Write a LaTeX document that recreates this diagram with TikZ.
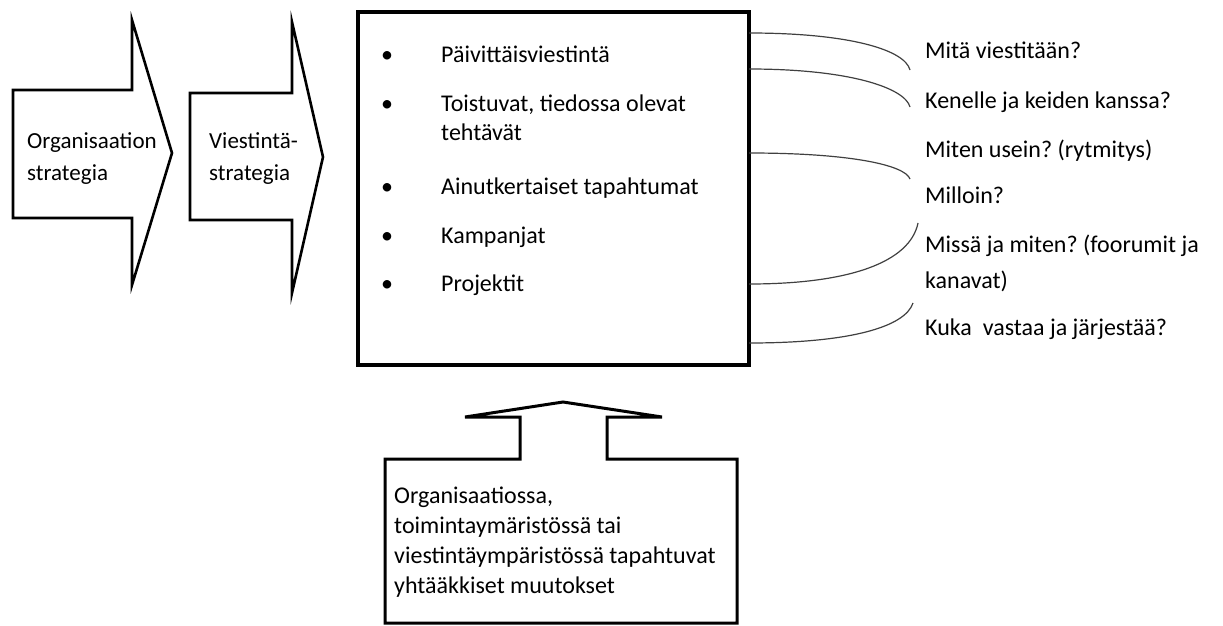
\documentclass[tikz,border=0pt]{standalone}
\usepackage{fontspec}
\setmainfont{Carlito}
\frenchspacing
\begin{document}
\begin{tikzpicture}[x=1pt,y=-1pt,
  shapeline/.style={draw=black, line width=2.6pt, line join=miter},
  boxline/.style={draw=black, line width=4pt},
  brace/.style={draw=black!75, line width=1.2pt},
  txt/.style={anchor=base west, inner sep=0pt, font=\fontsize{24}{29}\selectfont\frenchspacing},
  atxt/.style={anchor=base west, inner sep=0pt, font=\fontsize{23}{28}\selectfont},
  bul/.style={anchor=base west, inner sep=0pt, font=\fontsize{24}{29}\selectfont}
]
\useasboundingbox (0,0) rectangle (1223,626);

% left arrows
\draw[shapeline] (13,90) -- (132,90) -- (132,20) -- (172,153) -- (132,285) -- (132,218) -- (13,218) -- cycle;
\draw[shapeline] (190,93) -- (292,93) -- (292,22) -- (323,157) -- (292,293) -- (292,220) -- (190,220) -- cycle;
\node[atxt] (a1l1) at (27,148) {Organisaation};
\node[atxt] (a1l2) at (27,180) {strategia};
\node[atxt] (a2l1) at (209,148) {Viestintä-};
\node[atxt] (a2l2) at (209,180) {strategia};

% main box
\node[boxline, rectangle, anchor=north west, minimum width=391pt, minimum height=353pt, inner sep=0pt] (box) at (356,10) {};

\node[bul] (b1) at (381,63) {•};
\node[bul] (b2) at (381,111) {•};
\node[bul] (b3) at (381,194) {•};
\node[bul] (b4) at (381,243) {•};
\node[bul] (b5) at (381,291) {•};
\node[txt] (t1) at (441,63) {Päivittäisviestintä};
\node[txt] (t2) at (441,111) {Toistuvat, tiedossa olevat};
\node[txt] (t2b) at (441,140) {tehtävät};
\node[txt] (t3) at (441,194) {Ainutkertaiset tapahtumat};
\node[txt] (t4) at (441,243) {Kampanjat};
\node[txt] (t5) at (441,291) {Projektit};

% right curves
\draw[brace] (749,33) .. controls (850,33) and (905,50) .. (910,70);
\draw[brace] (749,69) .. controls (850,69) and (905,88) .. (910,107);
\draw[brace] (749,153) .. controls (850,153) and (905,165) .. (910,179);
\draw[brace] (749,284) .. controls (850,284) and (910,262) .. (918,223);
\draw[brace] (749,343) .. controls (850,343) and (905,327) .. (913,303);

% right texts
\node[txt] (q1) at (925,59) {Mitä viestitään?};
\node[txt] (q2) at (925,108) {Kenelle ja keiden kanssa?};
\node[txt] (q3) at (925,157) {Miten usein? (rytmitys)};
\node[txt] (q4) at (925,203) {Milloin?};
\node[txt] (q5) at (925,252) {Missä ja miten? (foorumit ja};
\node[txt] (q5b) at (925,288) {kanavat)};
\node[txt] (q6) at (925,335) {Kuka\ \ vastaa ja järjestää?};

% bottom callout with up arrow
\draw[shapeline, line width=3pt] (385,459) -- (520,459) -- (520,417) -- (465,417) -- (563,402) -- (662,417) -- (607,417) -- (607,459) -- (737,459) -- (737,623) -- (385,623) -- cycle;
\node[txt] (c1) at (394,503) {Organisaatiossa,};
\node[txt] (c2) at (394,533) {toimintaymäristössä tai};
\node[txt] (c3) at (394,563) {viestintäympäristössä tapahtuvat};
\node[txt] (c4) at (394,593) {yhtääkkiset muutokset};
\end{tikzpicture}
\end{document}
